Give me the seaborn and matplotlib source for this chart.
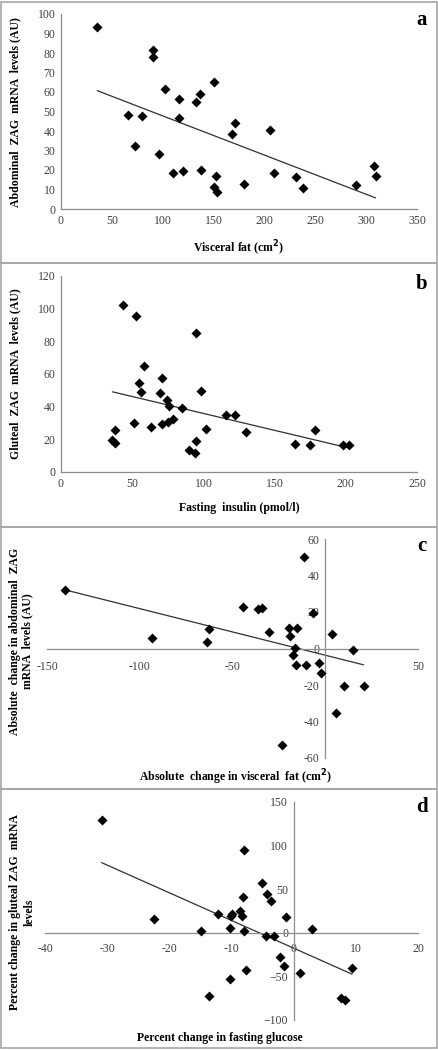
import numpy as np
import pandas as pd
import seaborn as sns
import matplotlib.pyplot as plt
from matplotlib.patches import Rectangle

# Panel a: visceral fat vs abdominal ZAG mRNA
visceral_fat = [35.7, 90.2, 90.2, 65.6, 79.4, 73.1, 96.1, 102.3, 110.5, 119.7,
                116.1, 116.4, 133.2, 137.1, 137.8, 150.2, 152.2, 150.9, 153.8, 168.6,
                170.9, 180.1, 205.6, 209.6, 230.9, 237.5, 289.9, 307.3, 309.3]
abd_zag = [93.2, 81.6, 77.8, 48.3, 47.6, 32.1, 28.3, 61.4, 18.6, 19.3,
           56.3, 46.6, 54.8, 59.2, 19.8, 65.2, 17.1, 11.1, 8.5, 38.6,
           44.2, 12.8, 40.4, 18.4, 16.2, 10.8, 12.1, 22.2, 16.7]

# Panel b: fasting insulin vs gluteal ZAG mRNA
fasting_insulin = [36.1, 38.2, 38.2, 43.3, 52.7, 54.8, 56.0, 58.6, 51.1, 63.0,
                   71.0, 69.4, 71.0, 74.5, 75.9, 75.4, 78.7, 84.8, 94.9, 98.4,
                   101.7, 94.7, 90.2, 94.0, 115.7, 122.5, 129.8, 164.2, 175.0, 178.3,
                   198.0, 202.2]
glut_zag = [19.6, 25.7, 18.0, 102.0, 95.5, 54.3, 49.2, 64.9, 29.8, 27.3,
            57.6, 48.2, 29.6, 44.1, 40.4, 30.4, 32.4, 39.2, 85.3, 49.4,
            26.3, 18.8, 13.5, 11.8, 34.7, 34.7, 24.7, 16.9, 16.3, 25.7,
            16.3, 16.3]

# Panel c: change in visceral fat vs change in abdominal ZAG
d_visceral = [-140.1, -93.3, -62.8, -63.5, -44.4, -36.0, -34.2, -30.4, -19.6, -19.2,
              -15.1, -16.4, -17.3, -16.0, -10.4, -11.7, -6.8, -3.2, -2.5, 3.8,
              15.1, 10.1, 20.7, 5.6, -23.4]
d_abd_zag = [32.3, 5.7, 10.8, 3.7, 22.8, 21.9, 22.1, 9.3, 11.0, 7.1,
             11.0, 0.5, -3.3, -8.8, -8.8, 49.9, 19.2, -7.7, -13.3, 8.2,
             -0.9, -20.3, -20.3, -35.3, -52.8]

# Panel d: % change in fasting glucose vs % change in gluteal ZAG
pct_glucose = [-30.9, -22.5, -14.9, -13.6, -12.1, -10.3, -10.3, -10.1, -9.9, -8.7,
               -8.3, -8.2, -8.0, -8.0, -7.6, -5.1, -4.5, -4.3, -3.6, -3.2,
               -2.2, -1.6, -1.2, 1.0, 3.0, 7.6, 8.3, 9.4]
pct_glut_zag = [129.0, 15.3, 2.3, -72.5, 21.4, 5.7, -52.7, 19.5, 21.4, 24.8,
                19.8, 40.5, 94.7, 1.9, -43.1, 57.3, -3.8, 44.7, 37.0, -3.8,
                -27.9, -38.2, 17.6, -46.2, 4.6, -74.4, -77.1, -40.1]

sns.set_style("white")
plt.rcParams['font.family'] = ['Liberation Serif', 'DejaVu Serif']

W, H = 439, 1050
fig = plt.figure(figsize=(W / 100, H / 100), dpi=100)

axis_col = "#8c8c8c"
tick_col = "#404040"


def px_axes(left, top, right, bottom):
    return fig.add_axes([left / W, 1 - bottom / H, (right - left) / W, (bottom - top) / H])


# panel frames
for top, bot in [(2, 263), (263, 527), (527, 789), (789, 1048)]:
    fig.patches.append(Rectangle((1 / W, 1 - bot / H), 436 / W, (bot - top) / H,
                                 transform=fig.transFigure, fill=False,
                                 edgecolor="#a6a6a6", linewidth=1.2))


def draw(ax, x, y):
    df = pd.DataFrame({"x": x, "y": y})
    sns.scatterplot(data=df, x="x", y="y", ax=ax, marker="D", s=26,
                    color="black", edgecolor="black", linewidth=0, zorder=3)
    sns.regplot(data=df, x="x", y="y", ax=ax, scatter=False, ci=None,
                line_kws={"color": "#303030", "linewidth": 0.9})
    ax.tick_params(length=0, labelsize=8.5, colors=tick_col, pad=4)
    for s in ["top", "right"]:
        ax.spines[s].set_visible(False)
    for s in ["left", "bottom"]:
        ax.spines[s].set_color(axis_col)
        ax.spines[s].set_linewidth(0.9)
    ax.set_xlabel("")
    ax.set_ylabel("")


lab = dict(fontsize=8.5, fontweight="bold", color="black")
letter = dict(fontsize=15, fontweight="bold", color="black")

# a
ax = px_axes(61, 14, 417, 209)
draw(ax, visceral_fat, abd_zag)
ax.set_xlim(0, 350)
ax.set_ylim(0, 100)
ax.set_xticks(range(0, 351, 50))
ax.set_yticks(range(0, 101, 10))
fig.text(239 / W, 1 - 248 / H, "Visceral fat (cm$^{\\mathbf{2}}$)", ha="center", va="center", **lab)
fig.text(15 / W, 1 - 112 / H, "Abdominal  ZAG  mRNA  levels (AU)", rotation=90,
         ha="center", va="center", **lab)
fig.text(422 / W, 1 - 20 / H, "a", ha="center", va="center", **letter)

# b
ax = px_axes(61, 276, 417, 472)
draw(ax, fasting_insulin, glut_zag)
ax.set_xlim(0, 250)
ax.set_ylim(0, 120)
ax.set_xticks(range(0, 251, 50))
ax.set_yticks(range(0, 121, 20))
fig.text(239 / W, 1 - 508 / H, "Fasting  insulin (pmol/l)", ha="center", va="center", **lab)
fig.text(15 / W, 1 - 374 / H, "Gluteal  ZAG  mRNA  levels (AU)", rotation=90,
         ha="center", va="center", **lab)
fig.text(422 / W, 1 - 284 / H, "b", ha="center", va="center", **letter)

# c
ax = px_axes(47, 539, 418, 758)
draw(ax, d_visceral, d_abd_zag)
ax.set_xlim(-150, 50)
ax.set_ylim(-60, 60)
ax.set_xticks(range(-150, 51, 50))
ax.set_yticks(range(-60, 61, 20))
ax.set_xticklabels(["-150", "-100", "-50", "", "50"])
ax.set_yticklabels(["-60", "-40", "-20", "0", "20", "40", "60"])
ax.spines["left"].set_position(("data", 0))
ax.spines["bottom"].set_position(("data", 0))
ax.tick_params(axis="x", pad=9)
fig.text(235 / W, 1 - 777 / H, "Absolute  change in visceral  fat (cm$^{\\mathbf{2}}$)",
         ha="center", va="center", **lab)
fig.text(21 / W, 1 - 641 / H, "Absolute  change in abdominal  ZAG\nmRNA  levels (AU)",
         rotation=90, ha="center", va="center", linespacing=1.1, **lab)
fig.text(422 / W, 1 - 546 / H, "c", ha="center", va="center", **letter)

# d
ax = px_axes(45, 802, 418, 1020)
draw(ax, pct_glucose, pct_glut_zag)
ax.set_xlim(-40, 20)
ax.set_ylim(-100, 150)
ax.set_xticks(range(-40, 21, 10))
ax.set_yticks(range(-100, 151, 50))
ax.set_xticklabels(["-40", "-30", "-20", "-10", "0", "10", "20"])
ax.spines["left"].set_position(("data", 0))
ax.spines["bottom"].set_position(("data", 0))
ax.tick_params(axis="x", pad=7)
fig.text(220 / W, 1 - 1038 / H, "Percent change in fasting glucose",
         ha="center", va="center", **lab)
fig.text(22 / W, 1 - 912 / H, "Percent change in gluteal ZAG  mRNA\nlevels",
         rotation=90, ha="center", va="center", linespacing=1.3, **lab)
fig.text(422 / W, 1 - 807 / H, "d", ha="center", va="center", **letter)

fig.savefig("out.png", dpi=100)
